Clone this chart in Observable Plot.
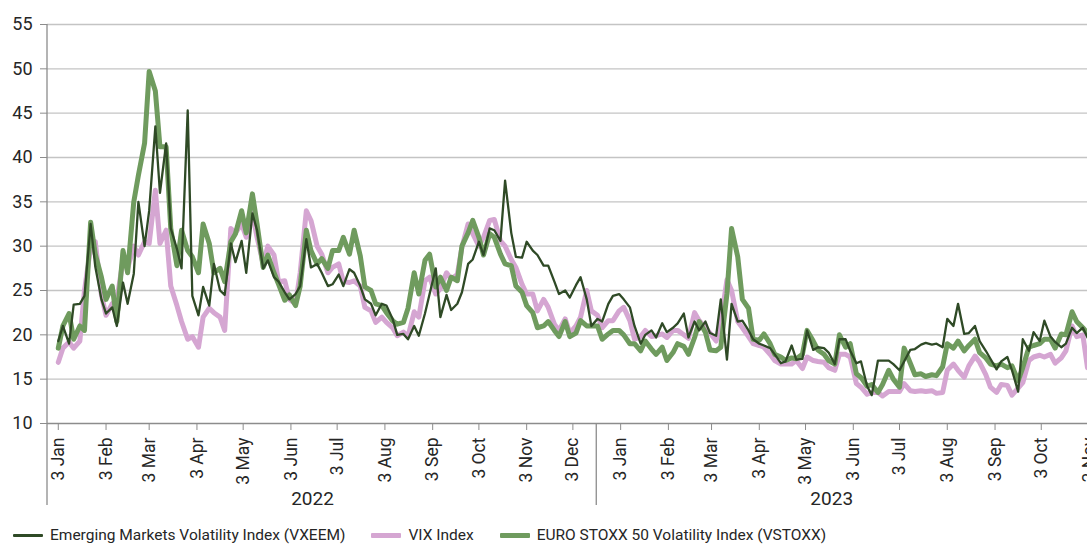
<!DOCTYPE html>
<html>
<head>
<meta charset="utf-8">
<script src="https://cdn.jsdelivr.net/npm/d3@7"></script>
<script src="https://cdn.jsdelivr.net/npm/@observablehq/plot@0.6"></script>
<style>
  html, body { margin: 0; padding: 0; background: #fff; width: 1087px; height: 544px; overflow: hidden; }
  #wrap { position: relative; width: 1087px; height: 544px; overflow: hidden; font-family: Roboto, "Noto Sans", sans-serif; }
  #legend { position: absolute; left: 13px; top: 526px; display: flex; align-items: center; font-size: 15.5px; color: #262626; white-space: nowrap; }
  .item { display: flex; align-items: center; margin-right: 26px; }
  .sw { width: 30px; margin-right: 7px; border-radius: 1px; }
</style>
</head>
<body>
<div id="wrap"><div id="chart"></div><div id="legend"></div></div>
<script>
// ---- sampling dates: every Monday and Thursday, 3 Jan 2022 .. 2 Nov 2023 ----
const sampleStart = new Date(Date.UTC(2022, 0, 3));
const sampleStop  = new Date(Date.UTC(2023, 10, 3));
const dates = [...d3.utcMonday.range(sampleStart, sampleStop), ...d3.utcThursday.range(sampleStart, sampleStop)]
  .sort((a, b) => a - b);

// ---- series values ----
const vxeem = [
19.3, 21.0, 19.0, 23.4, 23.5, 24.4, 32.5, 27.7, 24.0, 22.4,
23.1, 21.0, 25.9, 23.5, 26.9, 35.0, 30.0, 34.0, 43.5, 36.0,
41.6, 32.0, 29.7, 27.5, 45.3, 24.4, 22.2, 25.4, 23.3, 28.0,
25.0, 24.5, 30.3, 28.2, 30.6, 27.0, 33.7, 31.8, 27.5, 28.4,
26.5, 26.0, 24.8, 24.0, 24.6, 25.5, 30.8, 27.6, 28.0, 27.0,
25.5, 25.7, 26.8, 25.5, 27.4, 27.0, 25.5, 24.0, 23.5, 22.2,
23.5, 23.3, 21.8, 20.0, 20.1, 19.5, 21.0, 19.9, 22.4, 24.6,
27.5, 22.0, 24.5, 22.8, 23.5, 24.8, 28.0, 28.5, 30.5, 29.0,
32.0, 31.8, 30.6, 37.4, 31.5, 28.8, 28.7, 30.5, 29.5, 29.0,
27.8, 27.8, 26.0, 24.6, 25.0, 24.2, 25.6, 26.5, 24.0, 21.0,
21.8, 21.5, 23.5, 24.4, 24.6, 24.0, 23.1, 21.0, 19.0, 20.0,
20.5, 19.7, 21.3, 20.3, 20.8, 21.3, 22.4, 19.7, 21.5, 20.5,
21.5, 20.2, 19.9, 24.0, 17.2, 23.5, 21.5, 21.6, 20.5, 19.5,
19.0, 18.8, 18.5, 17.8, 16.8, 17.0, 18.8, 17.2, 17.3, 20.5,
18.3, 18.6, 18.5, 18.0, 16.7, 19.5, 19.5, 18.2, 16.8, 17.0,
14.2, 13.2, 17.1, 17.1, 17.1, 16.7, 16.0, 17.0, 18.3, 18.4,
18.9, 19.1, 18.9, 19.0, 18.6, 21.8, 21.0, 23.5, 20.1, 20.2,
21.0, 19.3, 18.2, 17.3, 16.1, 17.0, 17.5, 16.0, 13.6, 19.5,
18.2, 20.3, 19.3, 21.6, 19.8, 19.2, 18.6, 19.0, 20.8, 20.2,
20.8, 19.7
];
const vix = [
16.9, 18.5, 19.2, 18.5, 19.3, 25.0, 29.9, 30.5, 24.5, 22.2,
23.5, 23.9, 28.4, 27.5, 30.0, 29.0, 30.5, 30.3, 36.3, 30.3,
31.8, 25.5, 23.3, 21.5, 19.5, 19.8, 18.6, 22.0, 23.0, 22.5,
22.0, 20.5, 32.0, 31.5, 32.5, 31.0, 33.7, 31.0, 28.0, 30.0,
29.0, 26.0, 26.1, 24.0, 23.5, 27.0, 34.0, 32.9, 30.0, 29.1,
27.0, 27.6, 28.0, 26.0, 25.9, 26.1, 25.5, 23.1, 22.7, 21.4,
22.0, 21.4, 20.8, 19.9, 20.3, 19.8, 22.6, 22.0, 26.1, 26.5,
24.6, 25.2, 27.0, 26.3, 26.8, 29.9, 32.5, 31.4, 30.0, 31.0,
32.9, 33.0, 30.6, 30.0, 28.5, 27.6, 25.7, 24.6, 24.6, 22.7,
24.0, 23.1, 21.2, 20.5, 21.8, 20.2, 21.0, 22.0, 25.0, 22.7,
22.2, 20.8, 21.6, 21.6, 22.7, 23.1, 21.6, 19.5, 19.8, 20.5,
19.8, 19.9, 20.1, 19.7, 20.5, 20.5, 20.0, 19.6, 22.5, 21.6,
20.8, 20.2, 19.3, 21.5, 26.2, 25.0, 21.5, 20.8, 19.8, 19.0,
18.8, 18.6, 17.8, 17.1, 16.7, 16.7, 16.7, 17.1, 16.2, 17.5,
17.1, 17.0, 16.9, 16.3, 16.0, 17.8, 17.8, 17.5, 14.5, 14.1,
13.3, 13.5, 13.5, 13.1, 13.6, 13.6, 13.6, 14.5, 13.7, 13.6,
13.7, 13.6, 13.7, 13.4, 13.5, 16.0, 16.7, 16.0, 15.2, 16.5,
17.6, 16.9, 15.5, 14.1, 13.5, 14.4, 14.3, 13.2, 14.0, 14.6,
17.1, 17.5, 17.7, 17.5, 17.8, 16.8, 17.4, 18.2, 21.0, 19.8,
20.0, 16.3
];
const vstoxx = [
18.5, 21.0, 22.4, 19.5, 21.0, 20.5, 32.7, 29.1, 26.5, 24.0,
25.5, 21.5, 29.5, 27.0, 35.0, 38.0, 41.6, 49.7, 47.5, 41.2,
41.2, 32.0, 27.8, 31.8, 29.5, 28.8, 27.0, 32.5, 30.3, 27.0,
27.5, 26.0, 30.5, 31.4, 34.0, 31.5, 35.9, 32.5, 27.6, 29.0,
27.0, 25.7, 23.9, 24.5, 23.3, 25.5, 31.8, 29.5, 28.0, 28.6,
27.5, 29.5, 29.5, 31.0, 29.1, 31.8, 28.9, 25.4, 25.0, 23.5,
23.3, 22.5, 21.6, 21.2, 21.4, 23.0, 27.0, 24.6, 28.4, 29.1,
25.4, 26.5, 25.0, 26.5, 26.1, 30.0, 31.5, 32.9, 31.0, 29.0,
31.4, 31.0, 29.1, 28.0, 27.8, 25.5, 24.8, 23.3, 22.5, 20.8,
21.0, 21.5, 20.5, 19.8, 21.5, 19.8, 20.2, 21.6, 21.0, 21.0,
21.0, 19.5, 20.1, 20.5, 20.5, 20.0, 19.0, 19.0, 18.2, 19.3,
18.4, 17.8, 18.6, 17.1, 18.0, 19.0, 18.7, 17.8, 19.7, 21.5,
20.3, 18.3, 18.2, 18.6, 24.6, 32.0, 28.8, 24.0, 23.0, 19.5,
19.4, 20.1, 19.0, 17.8, 17.5, 17.1, 17.4, 17.3, 17.8, 20.5,
19.3, 18.3, 17.8, 17.1, 16.7, 20.0, 18.6, 19.0, 15.6, 15.2,
14.2, 14.4, 13.5, 14.4, 16.0, 15.0, 14.1, 18.5, 16.8, 15.5,
15.6, 15.3, 15.5, 15.4, 16.4, 19.0, 18.5, 19.3, 18.2, 18.8,
19.5, 18.0, 17.4, 16.7, 16.5, 16.7, 16.3, 16.5, 14.8, 16.3,
18.6, 18.8, 19.0, 19.5, 19.5, 18.5, 20.1, 20.0, 22.6, 21.5,
20.8, 20.2
];

// ---- axis / label definitions ----
const yTicks = [10, 15, 20, 25, 30, 35, 40, 45, 50, 55];
const tickDates = d3.utcMonth.range(new Date(Date.UTC(2022, 0, 1)), new Date(Date.UTC(2023, 10, 2)))
  .map(d => d3.utcDay.offset(d, 2));             // the 3rd of every month
const tickFormat = d3.utcFormat("%-d %b");
const years = ["2022", "2023"];
const yearLabelDates = [new Date(Date.UTC(2022, 5, 17)), new Date(Date.UTC(2023, 4, 20))];
const xDomain = [new Date(Date.UTC(2021, 11, 27)), new Date(Date.UTC(2023, 10, 10))];

const seriesNames = ["Emerging Markets Volatility Index (VXEEM)", "VIX Index", "EURO STOXX 50 Volatility Index (VSTOXX)"];
const seriesColors = ["#2f4a26", "#d5a6d2", "#6f9b5e"];
const seriesWidths = [2.3, 5, 5];
const seriesValues = [vxeem, vix, vstoxx];

const table = seriesValues.map(vals => vals.map((v, i) => ({date: dates[i], value: v})));

const FONT = "Roboto, 'Noto Sans', sans-serif";
const drawOrder = [1, 2, 0];

const chart = Plot.plot({
  width: 1100,
  height: 512,
  marginLeft: 47,
  marginRight: 0.7,
  marginTop: 24,
  marginBottom: 89,
  style: {fontFamily: FONT, fontSize: "18px", color: "#262626", background: "#fff", maxWidth: "none", overflow: "visible"},
  x: {type: "utc", domain: xDomain, label: null},
  y: {domain: [10, 55], label: null},
  marks: [
    Plot.gridY(yTicks.filter(d => d > 10), {stroke: "#c4c4c4", strokeOpacity: 1, strokeWidth: 1.3}),
    ...drawOrder.map(k => Plot.line(table[k], {
      x: "date", y: "value", stroke: seriesColors[k], strokeWidth: seriesWidths[k],
      strokeLinejoin: "round", strokeLinecap: "round"
    })),
    Plot.ruleY([10], {stroke: "#8c8c8c", strokeWidth: 1.3}),
    Plot.axisY(yTicks, {anchor: "left", label: null, tickSize: 7, tickPadding: 8, stroke: "#8c8c8c", fill: "#262626", fontSize: 18, tickFormat: d => String(d)}),
    Plot.axisX(tickDates, {anchor: "bottom", label: null, tickSize: 7, tickPadding: 7, tickRotate: -90, stroke: "#8c8c8c", fill: "#262626", fontSize: 17.5, tickFormat}),
    Plot.text(years, {x: (d, i) => yearLabelDates[i], text: d => d, frameAnchor: "bottom", dy: 81, fontSize: 19, fill: "#262626"})
  ]
});

document.getElementById("chart").appendChild(chart);

// year group separators & left axis line, positioned with the plot's own scales
const xs = chart.scale("x"), ys = chart.scale("y");
const svg = d3.select(chart);
const yBottom = ys.apply(10), yTop = ys.apply(55);
const sepDate = new Date((+tickDates[11] + +tickDates[12]) / 2);
const g = svg.append("g").attr("stroke", "#8c8c8c").attr("stroke-width", 1.3);
g.append("line").attr("x1", xs.apply(xDomain[0])).attr("x2", xs.apply(xDomain[0])).attr("y1", yTop).attr("y2", yBottom + 82);
g.append("line").attr("x1", xs.apply(sepDate)).attr("x2", xs.apply(sepDate)).attr("y1", yBottom).attr("y2", yBottom + 82);

// legend
const legend = d3.select("#legend");
seriesNames.forEach((name, k) => {
  const it = legend.append("div").attr("class", "item");
  it.append("div").attr("class", "sw").style("height", (k === 0 ? 3 : 5) + "px").style("background", seriesColors[k]);
  it.append("span").text(name);
});
</script>
</body>
</html>
